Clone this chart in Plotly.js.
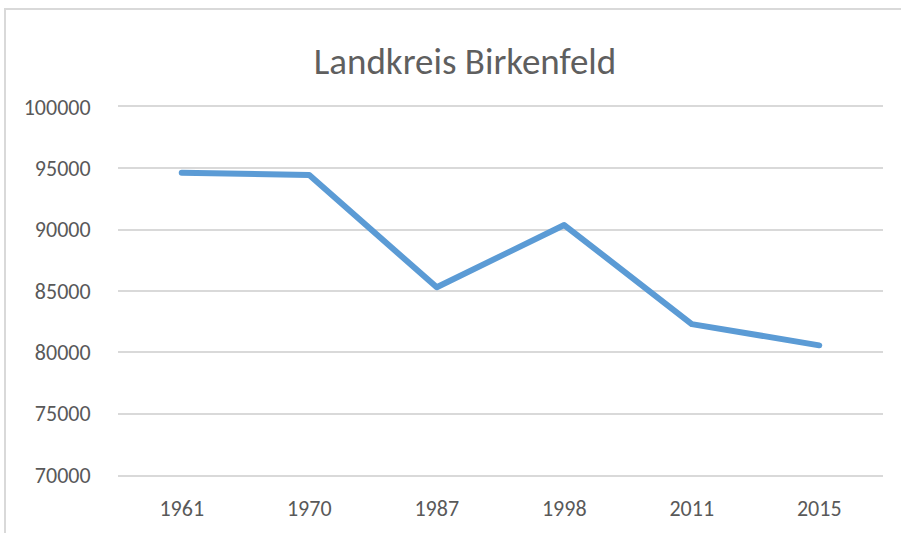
<!DOCTYPE html>
<html>
<head>
<meta charset="utf-8">
<script src="https://cdn.plot.ly/plotly-3.0.1.min.js"></script>
<style>
html,body{margin:0;padding:0;background:#fff;}
#wrap{position:relative;width:901px;height:533px;overflow:hidden;}
#chart{width:901px;height:533px;}
#frame{position:absolute;left:4px;top:8px;width:1000px;height:1000px;border-left:2px solid #d9d9d9;border-top:2px solid #d9d9d9;pointer-events:none;}
.js-line{stroke-linejoin:round;stroke-linecap:round;}
</style>
</head>
<body>
<div id="wrap">
<div id="chart"></div>
<div id="frame"></div>
</div>
<script>
const years = ['1961', '1970', '1987', '1998', '2011', '2015'];
const population = [94650, 94450, 85300, 90380, 82300, 80570];
const yTicks = [70000, 75000, 80000, 85000, 90000, 95000, 100000];
const chartTitle = 'Landkreis Birkenfeld';

const font = 'Carlito, "Liberation Sans", Arial, sans-serif';

Plotly.newPlot('chart', [{
  x: years,
  y: population,
  type: 'scatter',
  mode: 'lines',
  line: {color: '#5B9BD5', width: 6},
  hoverinfo: 'x+y'
}], {
  width: 901,
  height: 533,
  margin: {l: 118, r: 18, t: 107, b: 58},
  paper_bgcolor: '#ffffff',
  plot_bgcolor: '#ffffff',
  showlegend: false,
  title: {
    text: chartTitle,
    font: {family: font, size: 37, color: '#5f5f5f'},
    x: 465 / 901,
    xref: 'container',
    xanchor: 'center',
    y: 1 - 61 / 533,
    yref: 'container',
    yanchor: 'middle'
  },
  xaxis: {
    type: 'category',
    range: [-0.5, years.length - 0.5],
    showgrid: false,
    zeroline: false,
    showline: true,
    mirror: true,
    linecolor: '#d9d9d9',
    linewidth: 2,
    ticks: 'outside',
    ticklen: 13,
    tickcolor: 'rgba(0,0,0,0)',
    tickfont: {family: font, size: 22, color: '#595959'},
    fixedrange: true
  },
  yaxis: {
    range: [70000, 100000],
    tickvals: yTicks,
    ticktext: yTicks.map(String),
    showgrid: true,
    gridcolor: '#d9d9d9',
    gridwidth: 2,
    zeroline: false,
    showline: false,
    ticks: 'outside',
    ticklen: 22,
    tickcolor: 'rgba(0,0,0,0)',
    tickfont: {family: font, size: 22, color: '#595959'},
    fixedrange: true
  }
}, {displayModeBar: false, staticPlot: true});
</script>
</body>
</html>
